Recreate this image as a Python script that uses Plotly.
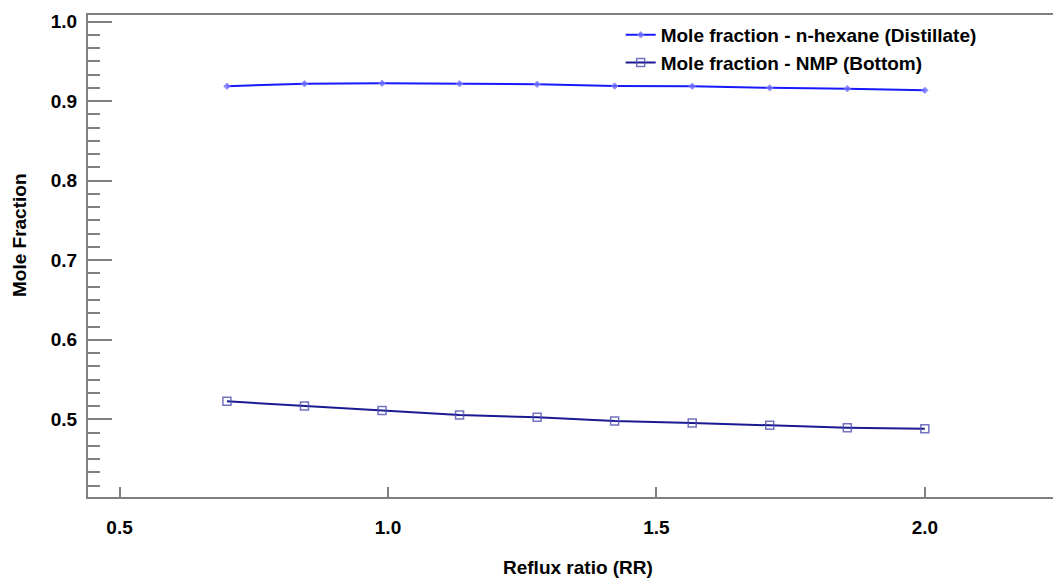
import plotly.graph_objects as go

reflux_ratio = [0.7, 0.8444, 0.9889, 1.1333, 1.2778, 1.4222, 1.5667, 1.7111, 1.8556, 2.0]
x_distillate_hexane = [0.9187, 0.9220, 0.9224, 0.9220, 0.9212, 0.9190, 0.9187, 0.9167, 0.9157, 0.9136]
x_bottom_nmp = [0.5226, 0.5167, 0.5109, 0.5053, 0.5025, 0.4978, 0.4953, 0.4924, 0.4895, 0.4882]

series_names = ["Mole fraction - n-hexane (Distillate)", "Mole fraction - NMP (Bottom)"]
x_title = "Reflux ratio (RR)"
y_title = "Mole Fraction"

FONT = "Liberation Sans, Arial, sans-serif"
AXIS_GRAY = "#808080"

fig = go.Figure()
fig.add_trace(go.Scatter(
    x=reflux_ratio, y=x_distillate_hexane, name=series_names[0],
    mode="lines+markers",
    line=dict(color="rgb(25,25,255)", width=2),
    marker=dict(symbol="diamond", size=5, color="rgba(110,110,255,0.8)",
                line=dict(color="rgba(140,140,255,0.8)", width=1)),
))
fig.add_trace(go.Scatter(
    x=reflux_ratio, y=x_bottom_nmp, name=series_names[1],
    mode="lines+markers",
    line=dict(color="rgb(25,25,145)", width=2),
    marker=dict(symbol="square-open", size=8, color="rgba(80,80,175,0.8)",
                line=dict(width=1.5)),
))

fig.update_layout(
    width=1053, height=578,
    margin=dict(l=88, r=0, t=15, b=81),
    paper_bgcolor="white", plot_bgcolor="white",
    font=dict(family=FONT, size=19, color="black"),
    showlegend=True,
    legend=dict(x=0.552, y=0.998, xanchor="left", yanchor="top",
                bgcolor="rgba(255,255,255,0)", borderwidth=0,
                font=dict(family=FONT, size=19, color="black", weight="bold"),
                tracegroupgap=0, itemwidth=30),
    xaxis=dict(
        range=[0.4412, 2.2387], showgrid=False, zeroline=False,
        showline=True, linecolor=AXIS_GRAY, linewidth=2, mirror=True,
        ticks="inside", ticklen=10, tickwidth=2, tickcolor=AXIS_GRAY,
        tick0=0.5, dtick=0.5, tickformat=".1f",
        tickfont=dict(family=FONT, size=19, color="black", weight="bold"),
        ticklabelstandoff=12,
    ),
    yaxis=dict(
        range=[0.4023, 1.0083], showgrid=False, zeroline=False,
        showline=True, linecolor=AXIS_GRAY, linewidth=2, mirror=False,
        ticks="inside", ticklen=24, tickwidth=2, tickcolor=AXIS_GRAY,
        tick0=0.5, dtick=0.1, tickformat=".1f",
        tickfont=dict(family=FONT, size=19, color="black", weight="bold"),
        ticklabelstandoff=5,
        minor=dict(ticks="inside", ticklen=12, tickwidth=2, tickcolor=AXIS_GRAY,
                   tick0=0.5, dtick=0.1 / 6, showgrid=False),
    ),
    annotations=[
        dict(text=x_title, xref="paper", yref="paper", x=(578 - 88) / 965, y=-(567 - 497) / 482,
             xanchor="center", yanchor="middle", showarrow=False,
             font=dict(family=FONT, size=19, color="black", weight="bold")),
        dict(text=y_title, xref="paper", yref="paper", x=-(88 - 20) / 965, y=1 - (235 - 15) / 482,
             xanchor="center", yanchor="middle", showarrow=False, textangle=-90,
             font=dict(family=FONT, size=19, color="black", weight="bold")),
    ],
)

fig.write_html("out.html")
